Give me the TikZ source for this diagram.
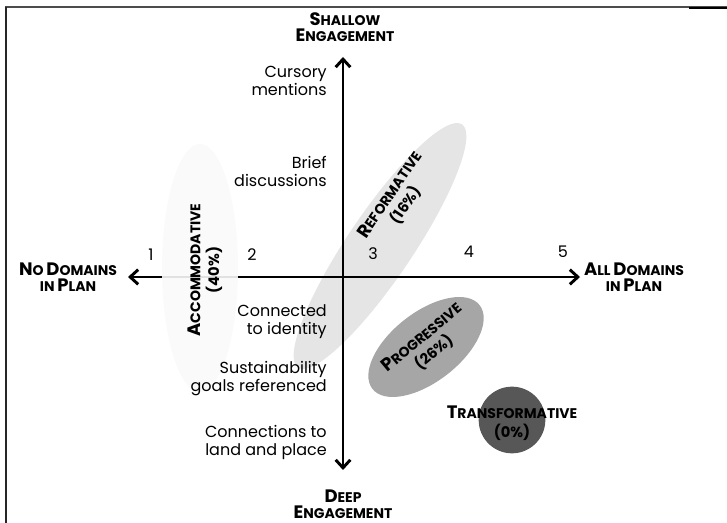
\documentclass[tikz,border=0pt]{standalone}
\usepackage{fontspec}
\setmainfont{Poppins}
\usepackage{tikz}
\usetikzlibrary{arrows.meta,positioning,shapes.geometric}

% big first letter, smaller capitals after it
\newcommand{\smcap}[2]{{\fontsize{13.5}{15}\selectfont #1}{\fontsize{10.5}{15}\selectfont #2}}

\begin{document}
\begin{tikzpicture}[x=0.75pt,y=0.75pt,>={Straight Barb[length=6pt,width=11pt]},
    axis/.style={line width=2.2pt,<->},
    head label/.style={font=\bfseries,align=center,inner sep=0pt},
    side label/.style={anchor=east,align=right,inner sep=0pt,font=\fontsize{12}{13.5}\selectfont},
    tick label/.style={inner sep=0pt,font=\fontsize{12}{13}\selectfont},
    group/.style={ellipse,inner sep=0pt},
    group label/.style={align=center,inner sep=0pt,font=\bfseries\fontsize{11}{14}\selectfont}]
    \useasboundingbox (0,0) rectangle (727,523);
    % frame
    \draw[line width=1.5pt,black!70] (5,516) -- (727,516);
    \draw[line width=1.5pt,black!85] (6,516) -- (6,0);
    \draw[line width=2pt] (689,515) -- (727,515);
    % groups under the axes
    \node[group,fill=black!10,minimum width=220pt,minimum height=49pt,rotate=56] (reform) at (380,277) {};
    \node[group,fill=black!35,minimum width=102pt,minimum height=52pt,rotate=38] (progr) at (426,176) {};
    \node[circle,inner sep=0pt,fill=black!66,minimum size=50pt] (transf) at (512,103) {};
    % axes
    \coordinate (o) at (343,246);
    \coordinate (ytop) at (343,466);
    \coordinate (ybot) at (343,53);
    \coordinate (xleft) at (128,246);
    \coordinate (xright) at (580,246);
    \draw[axis] (ybot) -- (ytop);
    \draw[axis] (xleft) -- (xright);
    % accommodative lies over the axis
    \node[group,fill=black!2,fill opacity=0.9,minimum width=57pt,minimum height=186pt] (accom) at (200,255) {};
    % axis ends
    \node[head label] (shallow) at (345,496) {\smcap{S}{HALLOW}\\\smcap{E}{NGAGEMENT}};
    \node[head label] (deep) at (343,19) {\smcap{D}{EEP}\\\smcap{E}{NGAGEMENT}};
    \node[head label] (nodom) at (68,246) {\smcap{N}{O} \smcap{D}{OMAINS}\\{\fontsize{10.5}{15}\selectfont IN} \smcap{P}{LAN}};
    \node[head label] (alldom) at (634,246) {\smcap{A}{LL} \smcap{D}{OMAINS}\\{\fontsize{10.5}{15}\selectfont IN} \smcap{P}{LAN}};
    % ticks
    \foreach \n/\x/\y in {1/151/268,2/252/268,3/373/269,4/469/271,5/563/271}
      \node[tick label] (t\n) at (\x,\y) {\n};
    % depth labels
    \node[side label] (cursory) at (327,442) {Cursory\\mentions};
    \node[side label] (brief) at (327,352) {Brief\\discussions};
    \node[side label] (ident) at (327,201) {Connected\\to identity};
    \node[side label] (goals) at (327,144) {Sustainability\\goals referenced};
    \node[side label] (land) at (327,81) {Connections to\\land and place};
    % group names
    \node[group label,rotate=90] (accomtxt) at (205,253) {\smcap{A}{CCOMMODATIVE}\\(40\%)};
    \node[group label,rotate=56] (reformtxt) at (398,323) {\smcap{R}{EFORMATIVE}\\(16\%)};
    \node[group label,rotate=40] (progrtxt) at (428,178) {\smcap{P}{ROGRESSIVE}\\(26\%)};
    \node[group label] (transftxt) at (512,100) {\smcap{T}{RANSFORMATIVE}\\(0\%)};
\end{tikzpicture}
\end{document}
